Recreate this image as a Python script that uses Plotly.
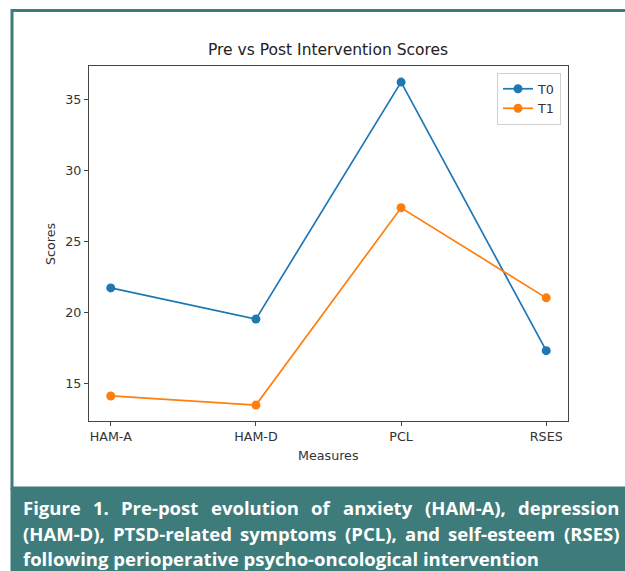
import plotly.graph_objects as go

measures = ["HAM-A", "HAM-D", "PCL", "RSES"]
t0_scores = [21.75, 19.56, 36.21, 17.34]
t1_scores = [14.16, 13.52, 27.38, 21.05]
y_ticks = [15, 20, 25, 30, 35]

W, H = 625, 571
TEAL = "#3e7c7b"

def px(x):
    return x / W

def py(y):
    return 1 - y / H

fig = go.Figure()
fig.add_trace(go.Scatter(x=measures, y=t0_scores, name="T0", mode="lines+markers",
                         line=dict(color="#1f77b4", width=1.7),
                         marker=dict(color="#1f77b4", size=9)))
fig.add_trace(go.Scatter(x=measures, y=t1_scores, name="T1", mode="lines+markers",
                         line=dict(color="#ff7f0e", width=1.7),
                         marker=dict(color="#ff7f0e", size=9)))

axis_common = dict(showline=True, linecolor="#444", linewidth=1, mirror=True,
                   ticks="outside", ticklen=4, tickcolor="#444", showgrid=False,
                   zeroline=False, tickfont=dict(family="DejaVu Sans", size=12.7, color="#333"))

fig.update_layout(
    width=W, height=H,
    margin=dict(l=0, r=0, t=0, b=0),
    paper_bgcolor="white", plot_bgcolor="white",
    showlegend=True,
    xaxis=dict(domain=[px(89), px(568)], range=[-0.15, 3.15], **axis_common),
    yaxis=dict(domain=[py(421), py(66)], range=[12.4, 37.34], tickvals=y_ticks, **axis_common),
    legend=dict(x=px(561), y=py(73), xanchor="right", yanchor="top",
                bordercolor="#d0d0d0", borderwidth=1, bgcolor="white",
                font=dict(family="DejaVu Sans", size=12.7, color="#333"),
                itemwidth=30, tracegroupgap=0),
)

shapes = [
    dict(type="rect", xref="paper", yref="paper", x0=px(12), x1=px(640), y0=py(488), y1=py(10.5),
         line=dict(color=TEAL, width=3), fillcolor="rgba(0,0,0,0)", layer="below"),
    dict(type="rect", xref="paper", yref="paper", x0=px(10.5), x1=px(640), y0=py(580), y1=py(488),
         line=dict(width=0), fillcolor=TEAL, layer="below"),
]
fig.update_layout(shapes=shapes)

ann = []
ann.append(dict(text="Pre vs Post Intervention Scores", x=px(328), y=py(50), xref="paper", yref="paper",
                showarrow=False, xanchor="center", yanchor="middle",
                font=dict(family="DejaVu Sans", size=15.5, color="#222")))
ann.append(dict(text="Scores", x=px(50), y=py(244), xref="paper", yref="paper", textangle=-90,
                showarrow=False, xanchor="center", yanchor="middle",
                font=dict(family="DejaVu Sans", size=12.7, color="#333")))
ann.append(dict(text="Measures", x=px(328), y=py(455), xref="paper", yref="paper",
                showarrow=False, xanchor="center", yanchor="middle",
                font=dict(family="DejaVu Sans", size=12.7, color="#333")))

cap_font = dict(family="Open Sans", size=18.5, color="white")
CAP_LEFT, CAP_RIGHT = 21, 617

line1_words = ["Figure", "1.", "Pre-post", "evolution", "of", "anxiety", "(HAM-A),", "depression"]
line1_x = [21, 88, 110, 208, 308, 342, 422, 519]
line2_words = ["(HAM-D),", "PTSD-related", "symptoms", "(PCL),", "and", "self-esteem", "(RSES)"]
line2_x = [21, 97, 265, 342, 418, 462, 540]

ranges = []
for words, xs, ypix in [(line1_words, line1_x, 507), (line2_words, line2_x, 533)]:
    start = len(ann)
    for w, xx in zip(words, xs):
        ann.append(dict(text="<b>%s</b>" % w, x=px(xx), y=py(ypix), xref="paper", yref="paper",
                        showarrow=False, xanchor="left", yanchor="middle", font=cap_font))
    ranges.append((start, len(ann) - 1))
ann.append(dict(text="<b>following perioperative psycho-oncological intervention</b>",
                x=px(CAP_LEFT), y=py(558), xref="paper", yref="paper",
                showarrow=False, xanchor="left", yanchor="middle", font=cap_font))
fig.update_layout(annotations=ann)

js = """
var gd = document.getElementById('{plot_id}');
document.body.style.margin = '0px';
var W = %d, L = %d, R = %d;
var groups = gd.querySelectorAll('g.annotation');
function just(a, b) {
  var ws = [];
  for (var i = a; i <= b; i++) {
    var t = groups[i] ? groups[i].querySelector('text') : null;
    ws.push(t ? t.getBBox().width : 0);
  }
  var tot = ws.reduce(function (s, v) { return s + v; }, 0);
  var gap = (R - L - tot) / (b - a);
  var x = L, upd = {};
  for (var i = a; i <= b; i++) {
    upd['annotations[' + i + '].x'] = x / W;
    x += ws[i - a] + gap;
  }
  return upd;
}
var u = {};
%s
Plotly.relayout(gd, u);
""" % (W, CAP_LEFT, CAP_RIGHT,
       "\n".join("Object.assign(u, just(%d, %d));" % r for r in ranges))

fig.write_html("out.html", config={"displayModeBar": False}, post_script=js)
